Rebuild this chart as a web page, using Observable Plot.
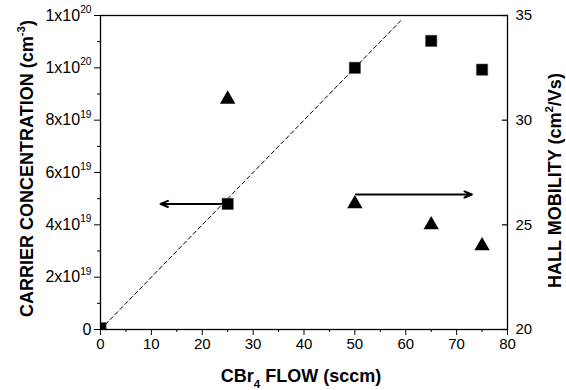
<!DOCTYPE html>
<html><head><meta charset="utf-8">
<script src="https://cdn.jsdelivr.net/npm/d3@7"></script>
<script src="https://cdn.jsdelivr.net/npm/@observablehq/plot@0.6"></script>
<style>
body{margin:0;background:#fff}
#chart svg{font-family:Arial,"Liberation Sans",Helvetica,sans-serif}
</style>
</head><body><div id="chart"></div>
<script>
// ---- data ----
const concFlow = [0, 25, 50, 65, 75];                       // sccm
const carrierConc = [0.05e19, 4.8e19, 10.0e19, 11.03e19, 9.93e19]; // cm^-3
const mobFlow = [25, 50, 65, 75];                           // sccm
const hallMobility = [31, 26, 25, 24];                      // cm^2/Vs
const fitFlow = [0, 59];
const fitConc = [0, 1.18e20];
const concArrowX = [25, 11.8];
const concArrowY = [4.8e19];
const mobArrowX = [50.2, 73];
const mobArrowY = [26.45];
const xMajorTicks = [0, 10, 20, 30, 40, 50, 60, 70, 80];
const xMinorTicks = [5, 15, 25, 35, 45, 55, 65, 75];
const leftTicks = [0, 2e19, 4e19, 6e19, 8e19, 10e19, 12e19];
const leftTickLabels = ["0", "2x10^{19}", "4x10^{19}", "6x10^{19}", "8x10^{19}", "1x10^{20}", "1x10^{20}"];
const leftMinorTicks = [1e19, 3e19, 5e19, 7e19, 9e19, 11e19];
const rightTicks = [20, 25, 30, 35];
const xTitle = "CBr_{4} FLOW (sccm)";
const leftTitle = "CARRIER CONCENTRATION (cm^{-3})";
const rightTitle = "HALL MOBILITY (cm^{2}/Vs)";

// right axis (mobility 20..35) mapped onto the left scale (0..1.2e20)
const mobMin = 20, mobMax = 35, concMax = 1.2e20;
const toLeft = m => (m - mobMin) / (mobMax - mobMin) * concMax;
const fromLeft = v => mobMin + v / concMax * (mobMax - mobMin);
const leftLabel = new Map(leftTicks.map((t, i) => [t, leftTickLabels[i]]));

const plot = Plot.plot({
  width: 566, height: 390,
  marginLeft: 100, marginRight: 59, marginTop: 15, marginBottom: 61,
  x: {domain: [0, 80]},
  y: {domain: [0, concMax]},
  style: {fontSize: "15px", color: "#000", background: "#fff", overflow: "visible"},
  marks: [
    Plot.axisX({ticks: xMajorTicks, tickSize: 6, tickPadding: 3, tickFormat: d => String(d), label: null}),
    Plot.axisX({ticks: xMinorTicks, tickSize: 3, tickFormat: () => "", label: null}),
    Plot.axisY({ticks: leftTicks, tickSize: 6, tickPadding: 3, fontSize: 16, tickFormat: d => leftLabel.get(d), label: null}),
    Plot.axisY({ticks: leftMinorTicks, tickSize: 3, tickFormat: () => "", label: null}),
    Plot.axisY({anchor: "right", ticks: rightTicks.map(toLeft), tickSize: 0, tickPadding: 8,
      tickFormat: d => String(Math.round(fromLeft(d))), label: null}),
    Plot.ruleY(rightTicks.map(toLeft), {x1: 79.0, x2: 80, stroke: "#000", strokeWidth: 1.2}),
    Plot.frame({stroke: "#000", strokeWidth: 1.3}),
    Plot.line(fitFlow.map((f, i) => ({f, c: fitConc[i]})), {x: "f", y: "c", stroke: "#000", strokeWidth: 1, strokeDasharray: "4,3"}),
    Plot.arrow([0], {x1: () => concArrowX[0], x2: () => concArrowX[1], y1: () => concArrowY[0], y2: () => concArrowY[0],
      stroke: "#000", strokeWidth: 2, headLength: 6, headAngle: 45}),
    Plot.arrow([0], {x1: () => mobArrowX[0], x2: () => mobArrowX[1], y1: () => toLeft(mobArrowY[0]), y2: () => toLeft(mobArrowY[0]),
      stroke: "#000", strokeWidth: 2, headLength: 6, headAngle: 45}),
    Plot.dot(concFlow.map((f, i) => ({f, c: carrierConc[i]})), {x: "f", y: "c", symbol: "square", r: 6.4, fill: "#000", stroke: "#555", strokeWidth: 0.5, clip: true}),
    Plot.dot(mobFlow.map((f, i) => ({f, m: hallMobility[i]})), {x: "f", y: d => toLeft(d.m), symbol: "triangle", r: 5.7, fill: "#000", stroke: "none"}),
    Plot.text([xTitle], {frameAnchor: "bottom", dx: -3, dy: 47, textAnchor: "middle", lineAnchor: "middle", fontWeight: "bold", fontSize: 18}),
    Plot.text([leftTitle], {frameAnchor: "left", dx: -73, dy: -4, rotate: -90, textAnchor: "middle", lineAnchor: "middle", fontWeight: "bold", fontSize: 18}),
    Plot.text([rightTitle], {frameAnchor: "right", dx: 48, dy: 8, rotate: -90, textAnchor: "middle", lineAnchor: "middle", fontWeight: "bold", fontSize: 18})
  ]
});
document.getElementById("chart").appendChild(plot);

// rich text: ^{sup} and _{sub} into tspans
const NS = "http://www.w3.org/2000/svg";
plot.querySelectorAll("text").forEach(el => {
  const s = el.textContent;
  if (!/[\^_]\{/.test(s)) return;
  const fs = parseFloat(getComputedStyle(el).fontSize) || 15;
  while (el.firstChild) el.removeChild(el.firstChild);
  const re = /([\^_])\{([^}]*)\}/g;
  let last = 0, m, off = 0;
  const add = (txt, dy, size) => {
    const t = document.createElementNS(NS, "tspan");
    t.textContent = txt;
    if (dy) t.setAttribute("dy", dy);
    if (size) t.setAttribute("font-size", size);
    el.appendChild(t);
  };
  while ((m = re.exec(s))) {
    if (m.index > last) { add(s.slice(last, m.index), -off); off = 0; }
    const target = m[1] === "^" ? -0.47 * fs : 0.3 * fs;
    add(m[2], target - off, (0.64 * fs).toFixed(1));
    off = target;
    last = re.lastIndex;
  }
  if (last < s.length) add(s.slice(last), -off);
});
</script>
</body></html>
